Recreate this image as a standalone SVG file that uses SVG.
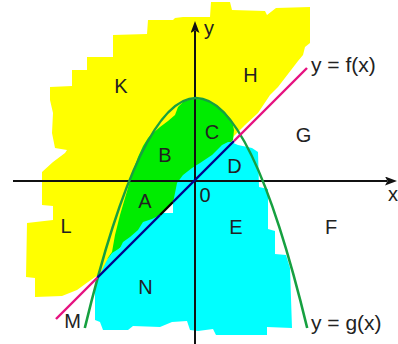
<svg xmlns="http://www.w3.org/2000/svg" width="398" height="344" viewBox="0 0 398 344">
<style>
.lbl{font-family:"Liberation Sans",Arial,sans-serif;font-size:20px;fill:#222}
.eq{font-size:21px}
.axis{stroke:#111;stroke-width:2;fill:none}
.curve{stroke:#16a040;stroke-width:2.6;fill:none}
.pink{stroke:#e6117f;stroke-width:2.4;fill:none}
.navy{stroke:#00008c;stroke-width:2.4;fill:none}
.blk{stroke:#000;stroke-width:2.4;fill:none}
</style>
<defs>
<marker id="arr" viewBox="0 0 12 9" refX="2" refY="4.5" markerWidth="12" markerHeight="9" markerUnits="userSpaceOnUse" orient="auto">
<path d="M0,0 L12,4.5 L0,9 L2.5,4.5 Z" fill="#111"/>
</marker>
</defs>
<rect width="398" height="344" fill="#fff"/>
<g id="regions">
<polygon id="yellow" fill="#ffff00" points="183,17 210,17 211,2 230,2 232,10 265,11 267,15 276,8 310,7 310,43 305,47 303,55 298,61 278,87 270,95 258,113 245,125 234,136 231,142 195,179 120,255 98,275 88,282 77,290 62,296 35,297 35,278 26,277 27,223 53,220 53,206 42,205 42,172 53,162 65,153 67,150 55,148 52,133 53,113 50,100 50,87 72,86 72,70 87,70 87,57 113,57 113,35 147,34 148,20 173,20 175,18"/>
<polygon id="green" fill="#00ec00" points="178,107 183,102 190,99.5 196,99 205,100 215,104 225,112 232,121 234,130 233,140 160,216 150,222 107,259 112,252 115,235 120,215 125,198 130,181 134,168 138,157 143,146 148,138 152,134 160,127 168,121 175,115"/>
<polygon id="cyan" fill="#00ffff" points="231,142 238,145 252,148 258,152 259,187 268,189 268,229 275,231 275,254 286,255 290,268 292,328 267,327 267,335 216,335 213,329 198,331 190,330 187,321 172,322 160,327 133,326 128,330 103,330 100,322 95,320 95,290 98,278 107,260 112,253 120,248 123,242 130,237 138,230 143,222 152,219 160,215 162,213 173,213 173,203 175,193 177,183 183,175 192,168 200,163 212,155 222,145 228,142"/>
</g>
<g id="axes">
<line class="axis" x1="195" y1="344" x2="195" y2="31" marker-end="url(#arr)"/>
<line class="axis" x1="13" y1="181" x2="387" y2="181" marker-end="url(#arr)"/>
</g>
<g id="connectors">
<path id="g-curve" class="curve" d="M84.8,328 Q196,-132 307.2,328"/>
<path class="pink" d="M56,319 L97.5,277.5"/>
<path class="navy" d="M97.5,277.5 L160,215"/>
<path class="blk" d="M160,215 L173,202"/>
<path class="navy" d="M173,202 L234,141"/>
<path class="pink" d="M234,141 L307,68"/>
</g>
<g id="labels">
<text class="lbl" x="204" y="35">y</text>
<text class="lbl" x="388" y="201">x</text>
<text class="lbl eq" x="311" y="72">y = f(x)</text>
<text class="lbl eq" x="311" y="330">y = g(x)</text>
<text class="lbl" x="121" y="93" text-anchor="middle">K</text>
<text class="lbl" x="250.5" y="82" text-anchor="middle">H</text>
<text class="lbl" x="303.5" y="142" text-anchor="middle">G</text>
<text class="lbl" x="212" y="139" text-anchor="middle">C</text>
<text class="lbl" x="165" y="162" text-anchor="middle">B</text>
<text class="lbl" x="234.5" y="173" text-anchor="middle">D</text>
<text class="lbl" x="205" y="202" text-anchor="middle">0</text>
<text class="lbl" x="145" y="208" text-anchor="middle">A</text>
<text class="lbl" x="236" y="234" text-anchor="middle">E</text>
<text class="lbl" x="331" y="234" text-anchor="middle">F</text>
<text class="lbl" x="66" y="233" text-anchor="middle">L</text>
<text class="lbl" x="145.5" y="294" text-anchor="middle">N</text>
<text class="lbl" x="72.5" y="328" text-anchor="middle">M</text>
</g>
</svg>
